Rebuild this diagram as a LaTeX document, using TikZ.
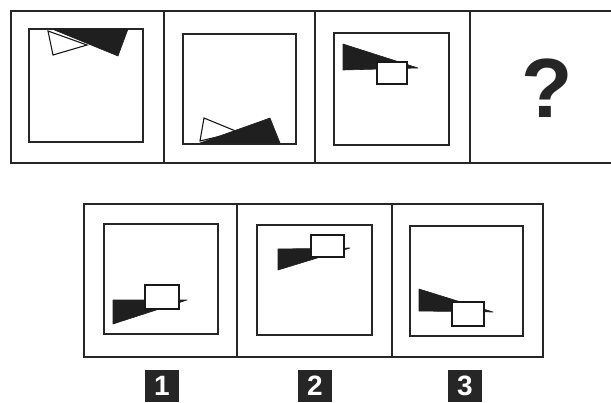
\documentclass[tikz,border=0pt]{standalone}
\usepackage{fontspec}
\setmainfont{Liberation Sans}
\begin{document}
\begin{tikzpicture}[x=1pt,y=-1pt,
  frame/.style={draw=black!85,line width=1.3pt},
  inner/.style={draw=black!85,line width=1.8pt},
  blk/.style={fill=black!88,draw=black!88,line width=0.6pt,line join=round},
  wht/.style={fill=white,draw=black!90,line width=1.1pt},
  lab/.style={fill=black!85,text=white,minimum width=34pt,minimum height=32pt,inner sep=0pt,font=\fontsize{28}{28}\selectfont\bfseries}]
\useasboundingbox (0,0) rectangle (611,402);
\fill[white] (0,0) rectangle (611,402);
% top row frame
\draw[frame] (611,11) -- (11,11) -- (11,163) -- (611,163);
\draw[frame] (164,11) -- (164,163);
\draw[frame] (315,11) -- (315,163);
\draw[frame] (470,11) -- (470,163);
% bottom row frame
\draw[frame] (84,204) rectangle (543,357);
\draw[frame] (237,204) -- (237,357);
\draw[frame] (392,204) -- (392,357);
% inner squares
\draw[inner] (29,29) rectangle (143,142);
\draw[inner] (183,34) rectangle (296,144);
\draw[inner] (334,33) rectangle (449,145);
\draw[inner] (104,224) rectangle (218,334);
\draw[inner] (257,225) rectangle (372,335);
\draw[inner] (410,226) rectangle (523,336);
% panel 1
\draw[wht] (48,31) -- (53,55) -- (87,45) -- cycle;
\draw[blk] (52,29) -- (128,29) -- (118,56) -- cycle;
% panel 2
\draw[wht] (204,118) -- (200,141) -- (238,132) -- cycle;
\draw[blk] (200,143) -- (270,118) -- (280,143) -- cycle;
% panel 3
\draw[blk] (343,44) -- (343,70) -- (418,68) -- cycle;
\draw[wht] (377,62) rectangle (407,84);
% option 1
\draw[blk] (113,300) -- (113,324) -- (187,300) -- cycle;
\draw[wht] (145,285) rectangle (179,309);
% option 2
\draw[blk] (278,249) -- (278,270) -- (350,248) -- cycle;
\draw[wht] (311,235) rectangle (344,257);
% option 3
\draw[blk] (419,289) -- (419,311) -- (493,312) -- cycle;
\draw[wht] (452,302) rectangle (484,326);
% question mark
\node[font=\fontsize{84}{84}\selectfont\bfseries,text=black!85] (q) at (547,88) {?};
% labels
\node[lab] (l1) at (162,386) {1};
\node[lab] (l2) at (315,386) {2};
\node[lab] (l3) at (465,386) {3};
\end{tikzpicture}
\end{document}
